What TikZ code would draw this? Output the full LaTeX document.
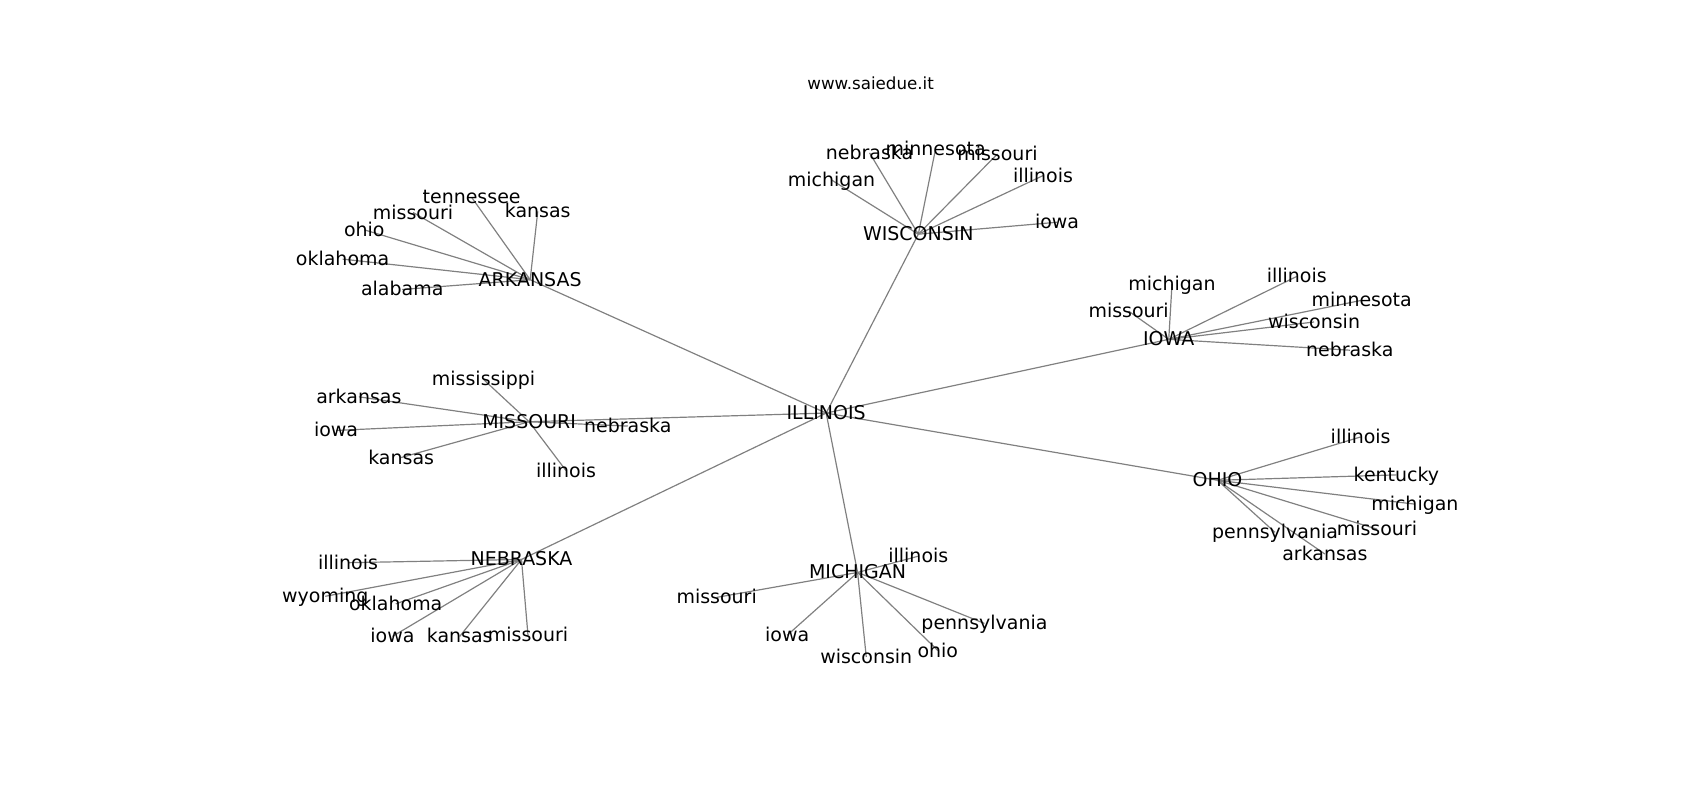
\documentclass[tikz,border=0pt]{standalone}
\usepackage{fontspec}
\setmainfont{DejaVu Sans}
\usetikzlibrary{backgrounds}
\begin{document}
\begin{tikzpicture}[x=1pt,y=-1pt,
  lbl/.style={font=\fontsize{17.5}{21}\selectfont, inner sep=0pt, text height=14.6pt, text depth=2.6pt, anchor=center},
  edge/.style={draw=gray, line width=1.1pt}]
\useasboundingbox (0,0) rectangle (1568,738);
\node[font=\fontsize{15.4}{18}\selectfont, inner sep=0pt, anchor=center] (title) at (803,77) {www.saiedue.it};
% hubs
\node[lbl] (il) at (762,381) {ILLINOIS};
\node[lbl] (wi) at (847,216) {WISCONSIN};
\node[lbl] (ia) at (1078,313) {IOWA};
\node[lbl] (oh) at (1123,443) {OHIO};
\node[lbl] (mi) at (791,528) {MICHIGAN};
\node[lbl] (ne) at (481,516) {NEBRASKA};
\node[lbl] (mo) at (488,389) {MISSOURI};
\node[lbl] (ar) at (489,258) {ARKANSAS};
% arkansas leaves
\node[lbl] (ar1) at (435,182) {tennessee};
\node[lbl] (ar2) at (496,195) {kansas};
\node[lbl] (ar3) at (381,196) {missouri};
\node[lbl] (ar4) at (336,212) {ohio};
\node[lbl] (ar5) at (316,239) {oklahoma};
\node[lbl] (ar6) at (371,267) {alabama};
% wisconsin leaves
\node[lbl] (wi1) at (767,166) {michigan};
\node[lbl] (wi2) at (802,141) {nebraska};
\node[lbl] (wi3) at (863,137) {minnesota};
\node[lbl] (wi4) at (920,142) {missouri};
\node[lbl] (wi5) at (962,162) {illinois};
\node[lbl] (wi6) at (975,205) {iowa};
% iowa leaves
\node[lbl] (ia1) at (1081,262) {michigan};
\node[lbl] (ia2) at (1041,287) {missouri};
\node[lbl] (ia3) at (1196,255) {illinois};
\node[lbl] (ia4) at (1256,277) {minnesota};
\node[lbl] (ia5) at (1212,297) {wisconsin};
\node[lbl] (ia6) at (1245,323) {nebraska};
% missouri leaves
\node[lbl] (mo1) at (446,350) {mississippi};
\node[lbl] (mo2) at (331,366) {arkansas};
\node[lbl] (mo3) at (310,397) {iowa};
\node[lbl] (mo4) at (370,422) {kansas};
\node[lbl] (mo5) at (579,393) {nebraska};
\node[lbl] (mo6) at (522,434) {illinois};
% ohio leaves
\node[lbl] (oh1) at (1255,403) {illinois};
\node[lbl] (oh2) at (1288,438) {kentucky};
\node[lbl] (oh3) at (1305,465) {michigan};
\node[lbl] (oh4) at (1270,488) {missouri};
\node[lbl] (oh5) at (1176,491) {pennsylvania};
\node[lbl] (oh6) at (1222,511) {arkansas};
% michigan leaves
\node[lbl] (mi1) at (847,513) {illinois};
\node[lbl] (mi2) at (661,551) {missouri};
\node[lbl] (mi3) at (726,586) {iowa};
\node[lbl] (mi4) at (799,606) {wisconsin};
\node[lbl] (mi5) at (865,600) {ohio};
\node[lbl] (mi6) at (908,575) {pennsylvania};
% nebraska leaves
\node[lbl] (ne1) at (321,519) {illinois};
\node[lbl] (ne2) at (300,550) {wyoming};
\node[lbl] (ne3) at (365,557) {oklahoma};
\node[lbl] (ne4) at (362,587) {iowa};
\node[lbl] (ne5) at (424,587) {kansas};
\node[lbl] (ne6) at (487,586) {missouri};
\begin{pgfonlayer}{background}
\foreach \h in {wi,ia,oh,mi,ne,mo,ar}
  \draw[edge] (il.center) -- (\h.center);
\foreach \h in {wi,ia,oh,mi,ne,mo,ar}
  \foreach \i in {1,...,6}
    \draw[edge] (\h.center) -- (\h\i.center);
\end{pgfonlayer}
\end{tikzpicture}
\end{document}
